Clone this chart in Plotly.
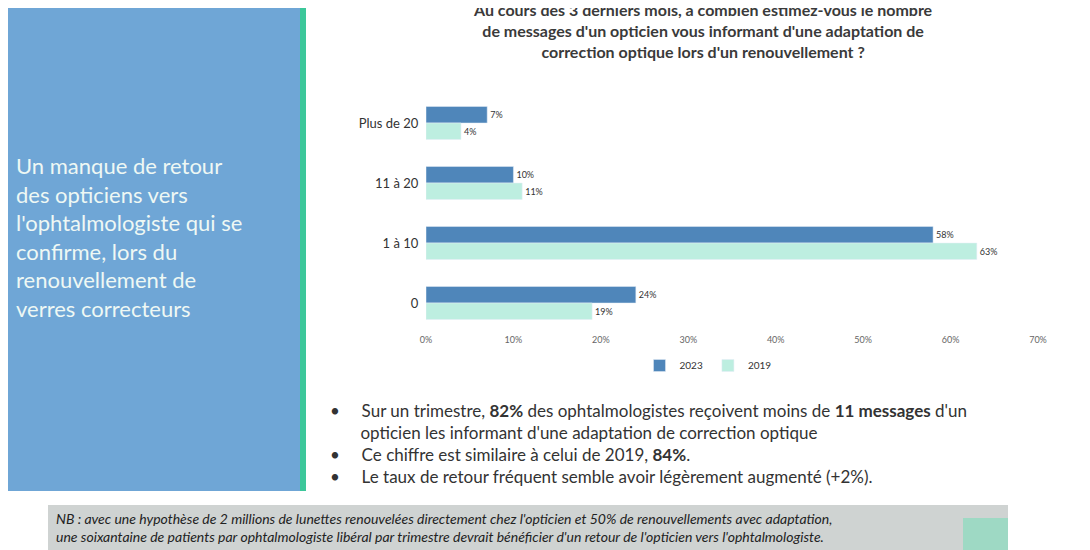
import plotly.graph_objects as go

categories = ["Plus de 20", "11 à 20", "1 à 10", "0"]
values_2023 = [7, 10, 58, 24]
values_2019 = [4, 11, 63, 19]
tick_vals = [0, 10, 20, 30, 40, 50, 60, 70]
tick_text = ["0%", "10%", "20%", "30%", "40%", "50%", "60%", "70%"]

W, H = 1090, 550
def px(x): return x / W
def py(y): return 1 - y / H

FONT = "Lato"
fig = go.Figure()
fig.add_trace(go.Bar(y=categories, x=values_2023, orientation="h", name="2023",
                     marker_color="#4f86ba", text=[f"{v}%" for v in values_2023],
                     textposition="outside", textfont=dict(size=9, color="#333")))
fig.add_trace(go.Bar(y=categories, x=values_2019, orientation="h", name="2019",
                     marker_color="#bdeee0", text=[f"{v}%" for v in values_2019],
                     textposition="outside", textfont=dict(size=9, color="#333")))

shapes = [
    dict(type="rect", xref="paper", yref="paper", x0=0, x1=px(292), y0=py(483), y1=1,
         fillcolor="#6fa6d6", line_width=0, layer="below"),
    dict(type="rect", xref="paper", yref="paper", x0=px(292), x1=px(298), y0=py(483), y1=1,
         fillcolor="#3cc79a", line_width=0, layer="below"),
    dict(type="rect", xref="paper", yref="paper", x0=px(1078), x1=1, y0=py(470), y1=1,
         fillcolor="#e6e6e6", line_width=0, layer="below"),
    dict(type="rect", xref="paper", yref="paper", x0=px(40), x1=px(1000), y0=py(547), y1=py(497),
         fillcolor="#cfd3d2", line_width=0, layer="below"),
    dict(type="rect", xref="paper", yref="paper", x0=px(955), x1=px(1000), y0=py(545), y1=py(510),
         fillcolor="#9ed9c4", line_width=0, layer="below"),
]

ann = [
    dict(text="<b>Au cours des 3 derniers mois, à combien estimez-vous le nombre<br>"
              "de messages d'un opticien vous informant d'une adaptation de<br>"
              "correction optique lors d'un renouvellement ?</b>",
         x=px(695), y=py(-10), xref="paper", yref="paper", xanchor="center", yanchor="top",
         showarrow=False, font=dict(size=16, color="#3a3a3a", family=FONT), align="center"),
    dict(text="Un manque de retour<br>des opticiens vers<br>l'ophtalmologiste qui se<br>"
              "confirme, lors du<br>renouvellement de<br>verres correcteurs",
         x=px(6), y=py(142), xref="paper", yref="paper", xanchor="left", yanchor="top",
         showarrow=False, align="left", font=dict(size=22, color="#eef8f4", family=FONT)),
    dict(text="•&nbsp;&nbsp;&nbsp;&nbsp;&nbsp;Sur un trimestre, <b>82%</b> des ophtalmologistes reçoivent moins de <b>11 messages</b> d'un<br>"
              "&nbsp;&nbsp;&nbsp;&nbsp;&nbsp;&nbsp;&nbsp;opticien les informant d'une adaptation de correction optique<br>"
              "•&nbsp;&nbsp;&nbsp;&nbsp;&nbsp;Ce chiffre est similaire à celui de 2019, <b>84%</b>.<br>"
              "•&nbsp;&nbsp;&nbsp;&nbsp;&nbsp;Le taux de retour fréquent semble avoir légèrement augmenté (+2%).",
         x=px(320), y=py(390), xref="paper", yref="paper", xanchor="left", yanchor="top",
         showarrow=False, align="left", font=dict(size=17, color="#333", family=FONT)),
    dict(text="<i>NB : avec une hypothèse de 2 millions de lunettes renouvelées directement chez l'opticien et 50% de renouvellements avec adaptation,<br>"
              "une soixantaine de patients par ophtalmologiste libéral par trimestre devrait bénéficier d'un retour de l'opticien vers l'ophtalmologiste.</i>",
         x=px(46), y=py(500), xref="paper", yref="paper", xanchor="left", yanchor="top",
         showarrow=False, align="left", font=dict(size=14, color="#222", family=FONT)),
]

fig.update_layout(
    width=W, height=H, margin=dict(l=0, r=0, t=0, b=0, autoexpand=False),
    paper_bgcolor="white", plot_bgcolor="white",
    barmode="group", bargap=0.45, bargroupgap=0,
    font=dict(family=FONT, color="#333"),
    xaxis=dict(domain=[px(418), px(1030)], range=[0, 70], tickvals=tick_vals, ticktext=tick_text,
               showgrid=False, zeroline=False, tickfont=dict(size=9, color="#666"), automargin=False),
    yaxis=dict(domain=[py(325), py(85)], autorange="reversed", showgrid=False, automargin=False,
               tickfont=dict(size=13, color="#333"), ticksuffix="  "),
    legend=dict(orientation="h", x=px(700), y=py(343), xanchor="center", yanchor="top",
                font=dict(size=10), traceorder="normal"),
    shapes=shapes, annotations=ann, showlegend=True,
)
fig.write_html("out.html")
